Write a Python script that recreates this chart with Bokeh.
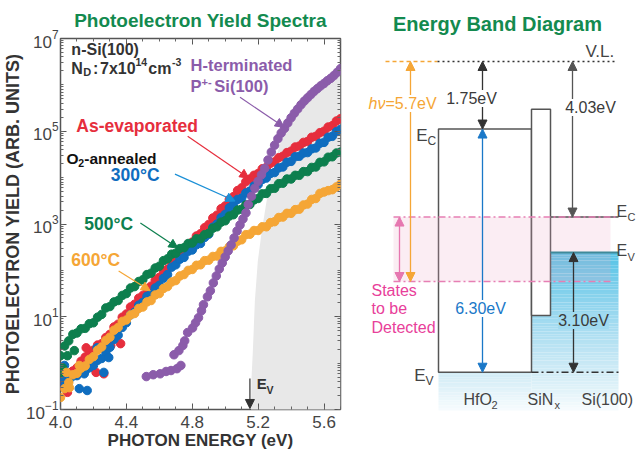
import numpy as np
from bokeh.plotting import figure
from bokeh.layouts import row
from bokeh.models import (Range1d, FixedTicker, CustomJSTickFormatter, LinearAxis,
                          LogAxis, LogTickFormatter, Label, Arrow, NormalHead)
from bokeh.embed import file_html
from bokeh.resources import INLINE

FONT = "Liberation Sans"
INK = "#3a3a3a"
GREEN = "#138a4f"
RED = "#e62e3d"
BLUE = "#0f6dbf"
DKGREEN = "#0d7f4e"
ORANGE = "#f5a636"
PURPLE = "#8b5caa"
PINK = "#e8409a"

# ---------------- photoelectron yield spectra (log10 of yield, arb. units) ----------------
photon_energy = [4.000, 4.025, 4.050, 4.075, 4.100, 4.125, 4.150, 4.175, 4.200, 4.225,
                 4.250, 4.275, 4.300, 4.325, 4.350, 4.375, 4.400, 4.425, 4.450, 4.475,
                 4.500, 4.525, 4.550, 4.575, 4.600, 4.625, 4.650, 4.675, 4.700, 4.725,
                 4.750, 4.775, 4.800, 4.825, 4.850, 4.875, 4.900, 4.925, 4.950, 4.975,
                 5.000, 5.025, 5.050, 5.075, 5.100, 5.125, 5.150, 5.175, 5.200, 5.225,
                 5.250, 5.275, 5.300, 5.325, 5.350, 5.375, 5.400, 5.425, 5.450, 5.475,
                 5.500, 5.525, 5.550, 5.575, 5.600, 5.625, 5.650, 5.675, 5.700]

as_evaporated = [-0.48, -0.38, -0.32, -0.17, -0.10, 0.04, 0.13, 0.25, 0.28, 0.39,
                 0.42, 0.55, 0.62, 0.78, 0.84, 0.99, 1.06, 1.21, 1.27, 1.40,
                 1.46, 1.60, 1.66, 1.79, 1.85, 1.98, 2.03, 2.17, 2.23, 2.37,
                 2.42, 2.56, 2.61, 2.74, 2.79, 2.92, 2.99, 3.13, 3.19, 3.33,
                 3.39, 3.53, 3.59, 3.72, 3.78, 3.91, 3.97, 4.05, 4.09, 4.19,
                 4.22, 4.31, 4.34, 4.43, 4.46, 4.54, 4.57, 4.66, 4.68, 4.76,
                 4.78, 4.87, 4.89, 4.97, 5.00, 5.09, 5.12, 5.22, 5.27]

annealed_300c = [-0.42, -0.36, -0.37, -0.28, -0.27, -0.19, -0.17, -0.10, -0.05, 0.06,
                 0.10, 0.24, 0.34, 0.51, 0.60, 0.77, 0.87, 1.04, 1.10, 1.25,
                 1.31, 1.44, 1.49, 1.62, 1.68, 1.83, 1.91, 2.07, 2.12, 2.24,
                 2.28, 2.41, 2.44, 2.55, 2.58, 2.71, 2.78, 2.93, 3.00, 3.14,
                 3.21, 3.35, 3.42, 3.53, 3.56, 3.67, 3.71, 3.82, 3.85, 3.96,
                 3.99, 4.09, 4.11, 4.21, 4.23, 4.33, 4.35, 4.45, 4.46, 4.53,
                 4.54, 4.62, 4.64, 4.74, 4.76, 4.87, 4.89, 4.99, 5.04]

annealed_500c = [0.16, 0.37, 0.48, 0.62, 0.65, 0.74, 0.75, 0.85, 0.87, 0.99,
                 1.05, 1.19, 1.22, 1.32, 1.35, 1.46, 1.50, 1.62, 1.65, 1.76,
                 1.80, 1.91, 1.94, 2.05, 2.09, 2.21, 2.25, 2.35, 2.37, 2.47,
                 2.49, 2.58, 2.59, 2.68, 2.68, 2.77, 2.80, 2.91, 2.94, 3.04,
                 3.07, 3.17, 3.20, 3.30, 3.32, 3.41, 3.42, 3.52, 3.55, 3.65,
                 3.66, 3.76, 3.77, 3.87, 3.88, 3.97, 3.97, 4.05, 4.05, 4.13,
                 4.13, 4.22, 4.23, 4.33, 4.34, 4.44, 4.45, 4.53, 4.55]

annealed_600c = [-0.74, -0.55, -0.42, -0.25, -0.22, -0.11, -0.06, 0.08, 0.14, 0.28,
                 0.35, 0.49, 0.56, 0.71, 0.77, 0.90, 0.93, 1.04, 1.07, 1.18,
                 1.21, 1.32, 1.35, 1.47, 1.50, 1.61, 1.65, 1.75, 1.78, 1.88,
                 1.91, 2.00, 2.02, 2.11, 2.12, 2.21, 2.22, 2.30, 2.31, 2.41,
                 2.42, 2.51, 2.53, 2.63, 2.66, 2.77, 2.78, 2.86, 2.86, 2.94,
                 2.94, 3.03, 3.05, 3.14, 3.15, 3.23, 3.23, 3.31, 3.32, 3.41,
                 3.43, 3.53, 3.55, 3.66, 3.69, 3.72, 3.74, 3.80, 3.86]

# scattered low-signal readings near threshold
as_evaporated_low_e = [4.042, 4.156, 4.263, 4.305, 4.365, 4.216]
as_evaporated_low = [-0.63, 0.33, -0.23, 0.38, 0.42, -0.20]
annealed_300c_low_e = [4.144, 4.162, 4.263, 4.293, 4.222, 4.024, 4.114]
annealed_300c_low = [-0.23, -0.59, -0.20, 0.12, 0.33, -0.05, -0.55]
annealed_500c_low_e = [4.012, 4.042, 4.000, 4.084]
annealed_500c_low = [-0.10, 0.16, -0.20, 0.27]
annealed_600c_low_e = [4.054, 4.114, 4.036]
annealed_600c_low = [-0.53, -0.05, -0.20]

h_terminated_e = [4.521, 4.563, 4.605, 4.641, 4.671, 4.707, 4.731, 4.689, 4.719, 4.743,
                  4.754, 4.772, 4.802, 4.820, 4.838, 4.856, 4.868, 4.892, 4.910, 4.928,
                  4.946, 4.964, 4.982, 5.000, 5.018, 5.036, 5.054, 5.072, 5.090, 5.108,
                  5.126, 5.14, 5.16, 5.18, 5.20, 5.22, 5.24, 5.26, 5.28, 5.30,
                  5.32, 5.34, 5.36, 5.38, 5.40, 5.42, 5.44, 5.46, 5.48, 5.50,
                  5.52, 5.54, 5.56, 5.58, 5.60, 5.62, 5.64, 5.66, 5.68, 5.70]
h_terminated = [-0.29, -0.25, -0.23, -0.18, -0.16, -0.12, -0.05, 0.18, 0.27, 0.38,
                0.48, 0.66, 0.76, 0.87, 0.98, 1.13, 1.26, 1.43, 1.56, 1.73,
                1.88, 2.03, 2.16, 2.29, 2.42, 2.55, 2.70, 2.85, 2.98, 3.11,
                3.24, 3.42, 3.60, 3.77, 3.92, 4.06, 4.20, 4.38, 4.55, 4.70,
                4.84, 4.96, 5.06, 5.18, 5.29, 5.39, 5.48, 5.57, 5.65, 5.72,
                5.79, 5.86, 5.92, 5.98, 6.03, 6.09, 6.14, 6.20, 6.27, 6.35]

# yield expected from the valence band of Si above its edge (shaded)
EV_SI_PHOTON = 5.15
shade_energy = [5.156, 5.160, 5.168, 5.180, 5.198, 5.222, 5.251, 5.281, 5.329, 5.371,
                5.431, 5.521, 5.611, 5.700]
shade_log = [-1.2, -0.3, 0.27, 1.34, 2.20, 2.85, 3.49, 4.03, 4.68, 5.11,
             5.49, 5.86, 6.12, 6.33]

x_major = [4.0, 4.4, 4.8, 5.2, 5.6]
x_minor = [4.0, 4.1, 4.2, 4.3, 4.4, 4.5, 4.6, 4.7, 4.8, 4.9, 5.0, 5.1, 5.2, 5.3,
           5.4, 5.5, 5.6, 5.7]
y_labelled_exp = [-1, 1, 3, 5, 7]


def exp10(vals):
    return [10.0 ** v for v in vals]


def label(fig, x, y, text, size, color, style="normal", align="left",
          baseline="middle", bg=None):
    lab = Label(x=x, y=y, text=text, text_font=FONT, text_font_size=f"{size}px",
                text_color=color, text_font_style=style, text_align=align,
                text_baseline=baseline)
    if bg is not None:
        lab.background_fill_color = bg
    fig.add_layout(lab)


def arrow(fig, x0, y0, x1, y1, color, width=1.3, both=False, size=9):
    end = NormalHead(size=size, fill_color=color, line_color=color, line_width=1)
    start = NormalHead(size=size, fill_color=color, line_color=color, line_width=1) if both else None
    fig.add_layout(Arrow(x_start=x0, y_start=y0, x_end=x1, y_end=y1, end=end, start=start,
                         line_color=color, line_width=width))


# ---------------- left panel ----------------
p = figure(width=345, height=458, x_range=Range1d(4.0, 5.7), y_range=Range1d(1e-1, 1e7),
           y_axis_type="log", output_backend="svg", toolbar_location=None,
           min_border_left=56, min_border_right=5, min_border_top=37, min_border_bottom=49,
           title="Photoelectron Yield Spectra", frame_align=False)
p.title.align = "center"
p.title.text_font = FONT
p.title.text_font_size = "19px"
p.title.text_font_style = "bold"
p.title.text_color = GREEN
p.title.standoff = 15
p.grid.visible = False
p.outline_line_color = "#555555"
p.outline_line_width = 1.5
p.background_fill_color = "white"
p.border_fill_color = "white"

blank = CustomJSTickFormatter(code="return '';")
x_ticker = FixedTicker(ticks=x_major, minor_ticks=x_minor)
y_ticker = FixedTicker(ticks=[10.0 ** k for k in y_labelled_exp],
                       minor_ticks=[m * 10.0 ** k for k in range(-1, 7) for m in range(1, 10)])
bottom_axis = p.below[0]
left_axis = p.left[0]
bottom_axis.ticker = x_ticker
bottom_axis.formatter = CustomJSTickFormatter(code="return tick.toFixed(1);")
left_axis.ticker = y_ticker
left_axis.formatter = LogTickFormatter()
top_axis = LinearAxis(ticker=x_ticker, formatter=blank)
right_axis = LogAxis(ticker=y_ticker, formatter=blank)
p.add_layout(top_axis, "above")
p.add_layout(right_axis, "right")
for ax in (bottom_axis, left_axis, top_axis, right_axis):
    ax.axis_line_color = None
    ax.major_tick_in = 6
    ax.major_tick_out = 0
    ax.minor_tick_in = 3
    ax.minor_tick_out = 0
    ax.major_tick_line_color = "#555555"
    ax.minor_tick_line_color = "#666666"
    ax.major_label_text_font = FONT
    ax.major_label_text_color = "#444444"
    ax.axis_label_text_font = FONT
    ax.axis_label_text_font_style = "bold"
    ax.axis_label_text_color = "#333333"
for ax in (top_axis, right_axis):
    ax.major_label_text_font_size = "1px"
    ax.major_label_standoff = 0

bottom_axis.major_label_text_font_size = "17px"
bottom_axis.major_label_standoff = 6
bottom_axis.axis_label = "PHOTON ENERGY (eV)"
bottom_axis.axis_label_text_font_size = "17px"
bottom_axis.axis_label_standoff = 0
left_axis.major_label_text_font_size = "17px"
left_axis.major_label_standoff = 2
left_axis.axis_label = "PHOTOELECTRON YIELD (ARB. UNITS)"
left_axis.axis_label_text_font_size = "18px"
left_axis.axis_label_standoff = 0

# shaded valence-band contribution
p.patch(shade_energy + [5.70], exp10(shade_log + [-1.2]), fill_color="#e8e8e8",
        line_color=None)

DOT = 8.5
p.scatter(photon_energy + as_evaporated_low_e, exp10(as_evaporated + as_evaporated_low),
          size=DOT, fill_color=RED, line_color=RED)
p.scatter(photon_energy + annealed_300c_low_e, exp10(annealed_300c + annealed_300c_low),
          size=DOT, fill_color=BLUE, line_color=BLUE)
p.scatter(photon_energy + annealed_500c_low_e, exp10(annealed_500c + annealed_500c_low),
          size=DOT, fill_color=DKGREEN, line_color=DKGREEN)
p.scatter(photon_energy + annealed_600c_low_e, exp10(annealed_600c + annealed_600c_low),
          size=DOT, fill_color=ORANGE, line_color=ORANGE)
p.scatter(h_terminated_e, exp10(h_terminated), size=DOT, fill_color=PURPLE,
          line_color=PURPLE)

# sample description
label(p, 4.066, 10 ** 6.763, "n-Si(100)", 16, "#333333", style="bold")
label(p, 4.066, 10 ** 6.355, "N", 16, "#333333", style="bold")
label(p, 4.138, 10 ** 6.269, "D", 11, "#333333", style="bold")
label(p, 4.198, 10 ** 6.355, ":", 16, "#333333", style="bold")
label(p, 4.240, 10 ** 6.355, "7x10", 16, "#333333", style="bold")
label(p, 4.455, 10 ** 6.484, "14", 10.5, "#333333", style="bold")
label(p, 4.533, 10 ** 6.355, "cm", 16, "#333333", style="bold")
label(p, 4.677, 10 ** 6.484, "-3", 10.5, "#333333", style="bold")

# series annotations
label(p, 4.790, 10 ** 6.419, "H-terminated", 16.5, PURPLE, style="bold")
label(p, 4.790, 10 ** 5.968, "P", 16.5, PURPLE, style="bold")
label(p, 4.856, 10 ** 6.054, "+-", 11, PURPLE, style="bold")
label(p, 4.934, 10 ** 5.968, "Si(100)", 16.5, PURPLE, style="bold")
arrow(p, 5.090, 10 ** 5.731, 5.359, 10 ** 5.086, PURPLE, width=1.2)

label(p, 4.096, 10 ** 5.108, "As-evaporated", 17.5, RED, style="bold")
arrow(p, 4.772, 10 ** 4.892, 5.144, 10 ** 3.989, RED, width=1.2)

label(p, 4.036, 10 ** 4.419, "O", 15.5, "#111111", style="bold")
label(p, 4.108, 10 ** 4.312, "2", 10.5, "#111111", style="bold")
label(p, 4.144, 10 ** 4.419, "-annealed", 15.5, "#111111", style="bold")
label(p, 4.305, 10 ** 4.054, "300°C", 17.5, BLUE, style="bold")
arrow(p, 4.695, 10 ** 4.075, 5.060, 10 ** 3.495, "#1a8fd6", width=1.2)

label(p, 4.144, 10 ** 3.000, "500°C", 17.5, DKGREEN, style="bold")
arrow(p, 4.485, 10 ** 3.022, 4.713, 10 ** 2.48, DKGREEN, width=1.2)

label(p, 4.066, 10 ** 2.226, "600°C", 17.5, ORANGE, style="bold")
arrow(p, 4.353, 10 ** 1.989, 4.545, 10 ** 1.56, ORANGE, width=1.2)

# valence band edge of Si
arrow(p, EV_SI_PHOTON, 10 ** -0.333, EV_SI_PHOTON, 10 ** -0.978, "#333333", width=1.2)
label(p, 5.192, 10 ** -0.441, "E", 15, "#333333", style="bold")
label(p, 5.251, 10 ** -0.570, "V", 10.5, "#333333", style="bold")

# ---------------- right panel: energy band diagram (eV from vacuum level) ----------------
VACUUM = 0.0
HFO2_EC = -1.75
HFO2_GAP = 6.30
HFO2_EV = HFO2_EC - HFO2_GAP
SI_EC = -4.03
SI_EV_TO_HFO2_EV = 3.10
SI_EV = HFO2_EV + SI_EV_TO_HFO2_EV
PHOTON_MAX = 5.7
DETECT_FLOOR = VACUUM - PHOTON_MAX
SINX_EC = -1.24
SINX_EV = -6.58
VB_FLOOR = -9.04

# horizontal layout of the layers (page pixels)
X_HFO2 = (438, 531)
X_SINX = (531, 550)
X_SI = (550, 618)

q = figure(width=293, height=458, x_range=Range1d(345, 638), y_range=Range1d(-10.285, 1.580),
           output_backend="svg", toolbar_location=None, min_border=0,
           x_axis_location=None, y_axis_location=None, title_location=None,
           frame_align=False)
q.grid.visible = False
q.outline_line_color = None
q.background_fill_color = "white"
q.border_fill_color = "white"

# filled valence band of Si, fading downwards
stops_t = [0.0, 0.3, 0.6, 0.85, 1.0]
stops_rgb = [(84, 195, 230), (140, 211, 237), (186, 227, 243), (222, 241, 248), (247, 252, 254)]


def vb_color(yv):
    t = (SI_EV - yv) / (SI_EV - VB_FLOOR)
    rgb = [int(round(np.interp(t, stops_t, [c[i] for c in stops_rgb]))) for i in range(3)]
    return "#%02x%02x%02x" % tuple(rgb)


edges = np.linspace(SI_EV, VB_FLOOR, 61)
q.quad(left=[X_SINX[0]] * 60, right=[X_SI[1]] * 60, top=list(edges[:-1]),
       bottom=list(edges[1:]),
       fill_color=[vb_color(0.5 * (a + b)) for a, b in zip(edges[:-1], edges[1:])],
       line_color=None)
edges_b = np.linspace(HFO2_EV, VB_FLOOR, 16)
q.quad(left=[X_HFO2[0]] * 15, right=[X_SINX[0]] * 15, top=list(edges_b[:-1]),
       bottom=list(edges_b[1:]),
       fill_color=[vb_color(0.5 * (a + b)) for a, b in zip(edges_b[:-1], edges_b[1:])],
       line_color=None)

# HfO2 and SiNx layers
q.quad(left=[X_HFO2[0]], right=[X_HFO2[1]], top=[HFO2_EC], bottom=[HFO2_EV],
       fill_color="white", line_color="#555555", line_width=1.5)
q.quad(left=[X_SINX[0]], right=[X_SINX[1]], top=[SINX_EC], bottom=[SINX_EV],
       fill_color="white", line_color="#555555", line_width=1.5)

# states reachable with the photon energy
q.quad(left=[393], right=[610], top=[SI_EC], bottom=[DETECT_FLOOR], fill_color="#e9a3c4",
       fill_alpha=0.2, line_color=None)

# band edges of Si
q.segment(x0=[X_SI[0]], y0=[SI_EC], x1=[X_SI[1]], y1=[SI_EC], line_color="#555555",
          line_width=1.5)
q.segment(x0=[X_SI[0]], y0=[SI_EV], x1=[X_SI[1]], y1=[SI_EV], line_color="#3f8a9a",
          line_width=2)

# reference levels
q.segment(x0=[X_SINX[0]], y0=[HFO2_EV], x1=[X_SI[1]], y1=[HFO2_EV], line_color="#333333",
          line_width=1.5, line_dash="7 3 2 3")
q.segment(x0=[393, 393], y0=[SI_EC, DETECT_FLOOR], x1=[618, 610], y1=[SI_EC, DETECT_FLOOR],
          line_color="#e67fb4", line_width=1.5, line_dash="7 3 2 3")
q.segment(x0=[385], y0=[VACUUM], x1=[437], y1=[VACUUM], line_color=ORANGE, line_width=1.5,
          line_dash="4 3")
q.segment(x0=[437], y0=[VACUUM], x1=[617], y1=[VACUUM], line_color="#333333", line_width=1.5,
          line_dash="2 3")

# energy arrows
arrow(q, 410, VACUUM, 410, DETECT_FLOOR, ORANGE, both=True)
arrow(q, 399, SI_EC, 399, DETECT_FLOOR, "#e677b0", both=True)
arrow(q, 482, VACUUM, 482, HFO2_EC, "#333333", both=True)
arrow(q, 482, HFO2_EC, 482, HFO2_EV, "#1a78c8", both=True)
arrow(q, 572, VACUUM, 572, SI_EC, "#555555", both=True)
arrow(q, 573, SI_EV, 573, HFO2_EV, "#333333", both=True)

# texts
label(q, 497, 0.984, "Energy Band Diagram", 20, GREEN, style="bold", align="center")
label(q, 585, 0.26, "V.L.", 17, "#444444")
label(q, 385, -1.088, "hν", 16, ORANGE, style="italic", align="right", bg="white")
label(q, 385, -1.088, "=5.7eV", 16, ORANGE, bg="white")
label(q, 471, -0.959, "1.75eV", 16, INK, align="center", bg="white")
label(q, 590, -1.192, "4.03eV", 16, INK, align="center", bg="white")
label(q, 480, -6.399, "6.30eV", 16, "#1a78c8", align="center", bg="white")
label(q, 583, -6.71, "3.10eV", 16, INK, align="center", bg=vb_color(-6.71))

label(q, 427, -1.917, "E", 17, "#444444", align="right")
label(q, 427, -2.07, "C", 12, "#444444")
label(q, 425, -8.134, "E", 17, "#444444", align="right")
label(q, 425, -8.29, "V", 12, "#444444")
label(q, 616, -3.886, "E", 16, "#444444")
label(q, 627, -4.04, "C", 11, "#444444")
label(q, 616, SI_EV + 0.05, "E", 16, "#444444")
label(q, 627, SI_EV - 0.11, "V", 11, "#444444")

label(q, 371, -5.93, "States", 16, PINK)
label(q, 371, -6.40, "to be", 16, PINK)
label(q, 371, -6.89, "Detected", 16, PINK)

label(q, 463, -8.756, "HfO", 16, "#444444")
label(q, 491, -8.89, "2", 11, "#444444")
label(q, 527, -8.756, "SiN", 16, "#444444")
label(q, 554, -8.89, "x", 11, "#444444")
label(q, 581, -8.756, "Si(100)", 16, "#444444")

layout = row(p, q)
open("out.html", "w").write(file_html(layout, INLINE))
